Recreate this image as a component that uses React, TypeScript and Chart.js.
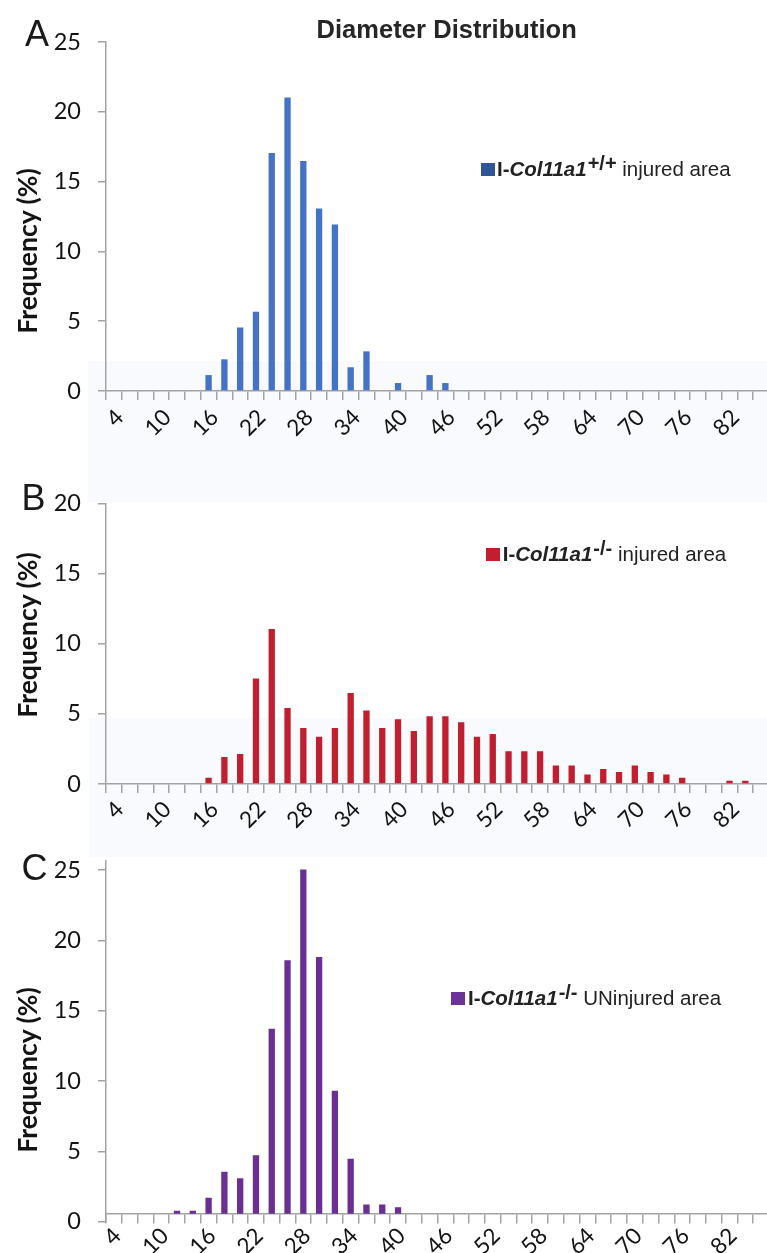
import React, { useEffect, useRef } from 'react';
import { Chart, registerables } from 'chart.js';

Chart.register(...registerables);

// ---------- data ----------
const diameters = [
  '4', '6', '8', '10', '12', '14', '16', '18', '20', '22', '24', '26', '28', '30',
  '32', '34', '36', '38', '40', '42', '44', '46', '48', '50', '52', '54', '56', '58',
  '60', '62', '64', '66', '68', '70', '72', '74', '76', '78', '80', '82', '84', '86',
];
const xTickLabels = ['4', '10', '16', '22', '28', '34', '40', '46', '52', '58', '64', '70', '76', '82'];
const yTicksA = [0, 25];
const yTicksB = [0, 20];
const yTicksC = [0, 25];

const wildTypeInjured = [
  0, 0, 0, 0, 0, 0, 1.14, 2.27, 4.55, 5.68, 17.05, 21.02, 16.48, 13.07,
  11.93, 1.7, 2.84, 0, 0.57, 0, 1.14, 0.57, 0, 0, 0, 0, 0, 0,
  0, 0, 0, 0, 0, 0, 0, 0, 0, 0, 0, 0, 0, 0,
];
const knockoutInjured = [
  0, 0, 0, 0, 0, 0, 0.45, 1.92, 2.14, 7.51, 11.05, 5.42, 3.99, 3.37,
  3.99, 6.49, 5.23, 3.99, 4.61, 3.78, 4.82, 4.82, 4.4, 3.37, 3.56, 2.33, 2.33, 2.33,
  1.31, 1.31, 0.67, 1.07, 0.86, 1.31, 0.86, 0.67, 0.45, 0, 0, 0.24, 0.24, 0,
];
const knockoutUninjured = [
  0, 0, 0, 0, 0.78, 0.78, 1.71, 3.55, 3.08, 4.72, 13.72, 18.58, 25.04, 18.81,
  9.31, 4.48, 1.23, 1.23, 1.02, 0, 0, 0, 0, 0, 0, 0, 0, 0,
  0, 0, 0, 0, 0, 0, 0, 0, 0, 0, 0, 0, 0, 0,
];

// ---------- styles ----------
const AXIS = '#a3a3a3';
const TEXT = '#141414';
const CANVAS_W = 769;
const Y_AXIS_W = 106;
const TICK_FONT = 'Lato, "Open Sans", sans-serif';

type PanelProps = {
  top: number;
  height: number;
  values: number[];
  color: string;
  yRange: number[];
  yMax: number;
  padTop: number;
  padBottom: number;
  xHeight: number;
  xCross?: number;
  labelOffset: number;
  labelPadding: number;
};

function BarPanel(p: PanelProps) {
  const ref = useRef<HTMLCanvasElement | null>(null);
  useEffect(() => {
    if (!ref.current) return;
    const crossed = p.xCross !== undefined;
    const data = crossed ? p.values.map((v) => (v > 0 ? v : null)) : p.values;
    const chart = new Chart(ref.current, {
      type: 'bar',
      data: {
        labels: diameters,
        datasets: [
          {
            data: data as any,
            backgroundColor: p.color,
            borderWidth: 0,
            barPercentage: 0.4,
            categoryPercentage: 1,
            ...(crossed ? { base: p.xCross } : {}),
          } as any,
        ],
      },
      options: {
        responsive: false,
        animation: false,
        layout: { padding: { top: p.padTop, bottom: p.padBottom, left: 0, right: 0 } },
        plugins: {
          legend: { display: false },
          tooltip: { enabled: false },
          title: { display: false },
        },
        scales: {
          x: {
            type: 'category',
            position: (crossed ? { y: p.xCross } : 'bottom') as any,
            offset: true,
            grid: {
              display: true,
              offset: true,
              drawOnChartArea: false,
              drawTicks: true,
              tickLength: 9,
              color: AXIS,
              lineWidth: 1.5,
            },
            border: { display: true, color: AXIS, width: 1.5 },
            ticks: {
              autoSkip: false,
              minRotation: 45,
              maxRotation: 45,
              padding: p.labelPadding,
              labelOffset: p.labelOffset,
              color: TEXT,
              font: { family: TICK_FONT, size: 22.5 },
              callback: (_v: any, i: number) =>
                xTickLabels.includes(diameters[i]) ? diameters[i] : '',
            },
            afterFit: (s: any) => {
              s.height = p.xHeight;
              s.paddingLeft = 0;
              s.paddingRight = 0;
            },
          },
          y: {
            type: 'linear',
            min: p.yRange[0],
            max: p.yMax,
            ticks: {
              stepSize: 5,
              includeBounds: false,
              padding: 17,
              color: TEXT,
              font: { family: TICK_FONT, size: 23.5 },
            },
            grid: {
              display: true,
              drawOnChartArea: false,
              drawTicks: true,
              tickLength: 8,
              color: AXIS,
              lineWidth: 1.5,
            },
            border: { display: true, color: AXIS, width: 1.5 },
            afterFit: (s: any) => {
              s.width = Y_AXIS_W;
              s.paddingTop = 0;
              s.paddingBottom = 0;
            },
          },
        },
      },
    });
    return () => chart.destroy();
  }, []);
  return (
    <canvas
      ref={ref}
      width={CANVAS_W}
      height={p.height}
      style={{ position: 'absolute', left: 0, top: p.top, width: CANVAS_W, height: p.height, display: 'block' }}
    />
  );
}

function Legend(props: { sqLeft: number; baseline: number; textLeft: number; color: string; sup: string; rest: string }) {
  const fs = 20.5;
  return (
    <>
      <div
        style={{
          position: 'absolute',
          left: props.sqLeft,
          top: props.baseline - 13.3,
          width: 14,
          height: 13,
          background: props.color,
        }}
      />
      <div
        style={{
          position: 'absolute',
          left: props.textLeft - 1.3,
          top: props.baseline - 0.8465 * fs,
          fontFamily: '"Liberation Sans", Arial, sans-serif',
          fontSize: fs,
          lineHeight: `${fs}px`,
          whiteSpace: 'nowrap',
          color: '#222',
        }}
      >
        <b>
          I-<i>Col11a1</i>
          <span style={{ fontSize: 20, position: 'relative', top: -6, lineHeight: 0, marginLeft: 1 }}>{props.sup}</span>
        </b>{' '}
        {props.rest}
      </div>
    </>
  );
}

function YTitle(props: { cx: number; cy: number }) {
  return (
    <div
      style={{
        position: 'absolute',
        left: props.cx,
        top: props.cy,
        transform: 'translate(-50%, -50%) rotate(-90deg)',
        fontFamily: TICK_FONT,
        fontWeight: 'bold',
        fontSize: 26.5,
        lineHeight: '26.5px',
        whiteSpace: 'nowrap',
        color: TEXT,
      }}
    >
      Frequency (%)
    </div>
  );
}

function Letter(props: { left: number; baseline: number; text: string }) {
  return (
    <div
      style={{
        position: 'absolute',
        left: props.left,
        top: props.baseline - 0.8465 * 36,
        fontFamily: '"Liberation Sans", Arial, sans-serif',
        fontSize: 36,
        lineHeight: '36px',
        color: '#1a1a1a',
      }}
    >
      {props.text}
    </div>
  );
}

export default function App() {
  return (
    <div
      style={{
        position: 'absolute',
        left: 0,
        top: 0,
        width: 767,
        height: 1253,
        overflow: 'hidden',
        background: '#ffffff',
      }}
    >
      {/* faint plot-area tints from the composed figure */}
      <div style={{ position: 'absolute', left: 88, top: 361, width: 700, height: 141, background: '#f8fafd' }} />
      <div style={{ position: 'absolute', left: 89, top: 718, width: 700, height: 139, background: '#f8fafd' }} />

      <BarPanel
        top={0}
        height={480}
        values={wildTypeInjured}
        color="#4472c4"
        yRange={yTicksA}
        yMax={yTicksA[1]}
        padTop={42}
        padBottom={0}
        xHeight={89}
        labelOffset={6}
        labelPadding={4}
      />
      <BarPanel
        top={470}
        height={400}
        values={knockoutInjured}
        color="#c11f30"
        yRange={yTicksB}
        yMax={yTicksB[1]}
        padTop={33.3}
        padBottom={0}
        xHeight={86}
        labelOffset={6}
        labelPadding={3}
      />
      <BarPanel
        top={830}
        height={423}
        values={knockoutUninjured}
        color="#6a2f91"
        yRange={yTicksC}
        yMax={25.66}
        padTop={30.7}
        padBottom={31.3}
        xHeight={40}
        xCross={0.57}
        labelOffset={3.5}
        labelPadding={0}
      />

      <div
        style={{
          position: 'absolute',
          left: 316.5,
          top: 17,
          fontFamily: '"Liberation Sans", Arial, sans-serif',
          fontWeight: 'bold',
          fontSize: 25.5,
          lineHeight: '25.5px',
          letterSpacing: 0.05,
          whiteSpace: 'nowrap',
          color: '#262626',
        }}
      >
        Diameter Distribution
      </div>

      <Letter left={25} baseline={46.7} text="A" />
      <Letter left={21.4} baseline={510.7} text="B" />
      <Letter left={21.5} baseline={880} text="C" />

      <YTitle cx={27} cy={250.8} />
      <YTitle cx={27} cy={635} />
      <YTitle cx={27} cy={1070} />

      <Legend sqLeft={481} baseline={176} textLeft={498.3} color="#2f5597" sup="+/+" rest="injured area" />
      <Legend sqLeft={485.7} baseline={561.7} textLeft={504} color="#c11f30" sup="-/-" rest="injured area" />
      <Legend sqLeft={451} baseline={1005} textLeft={469.3} color="#6b3399" sup="-/-" rest="UNinjured area" />
    </div>
  );
}
